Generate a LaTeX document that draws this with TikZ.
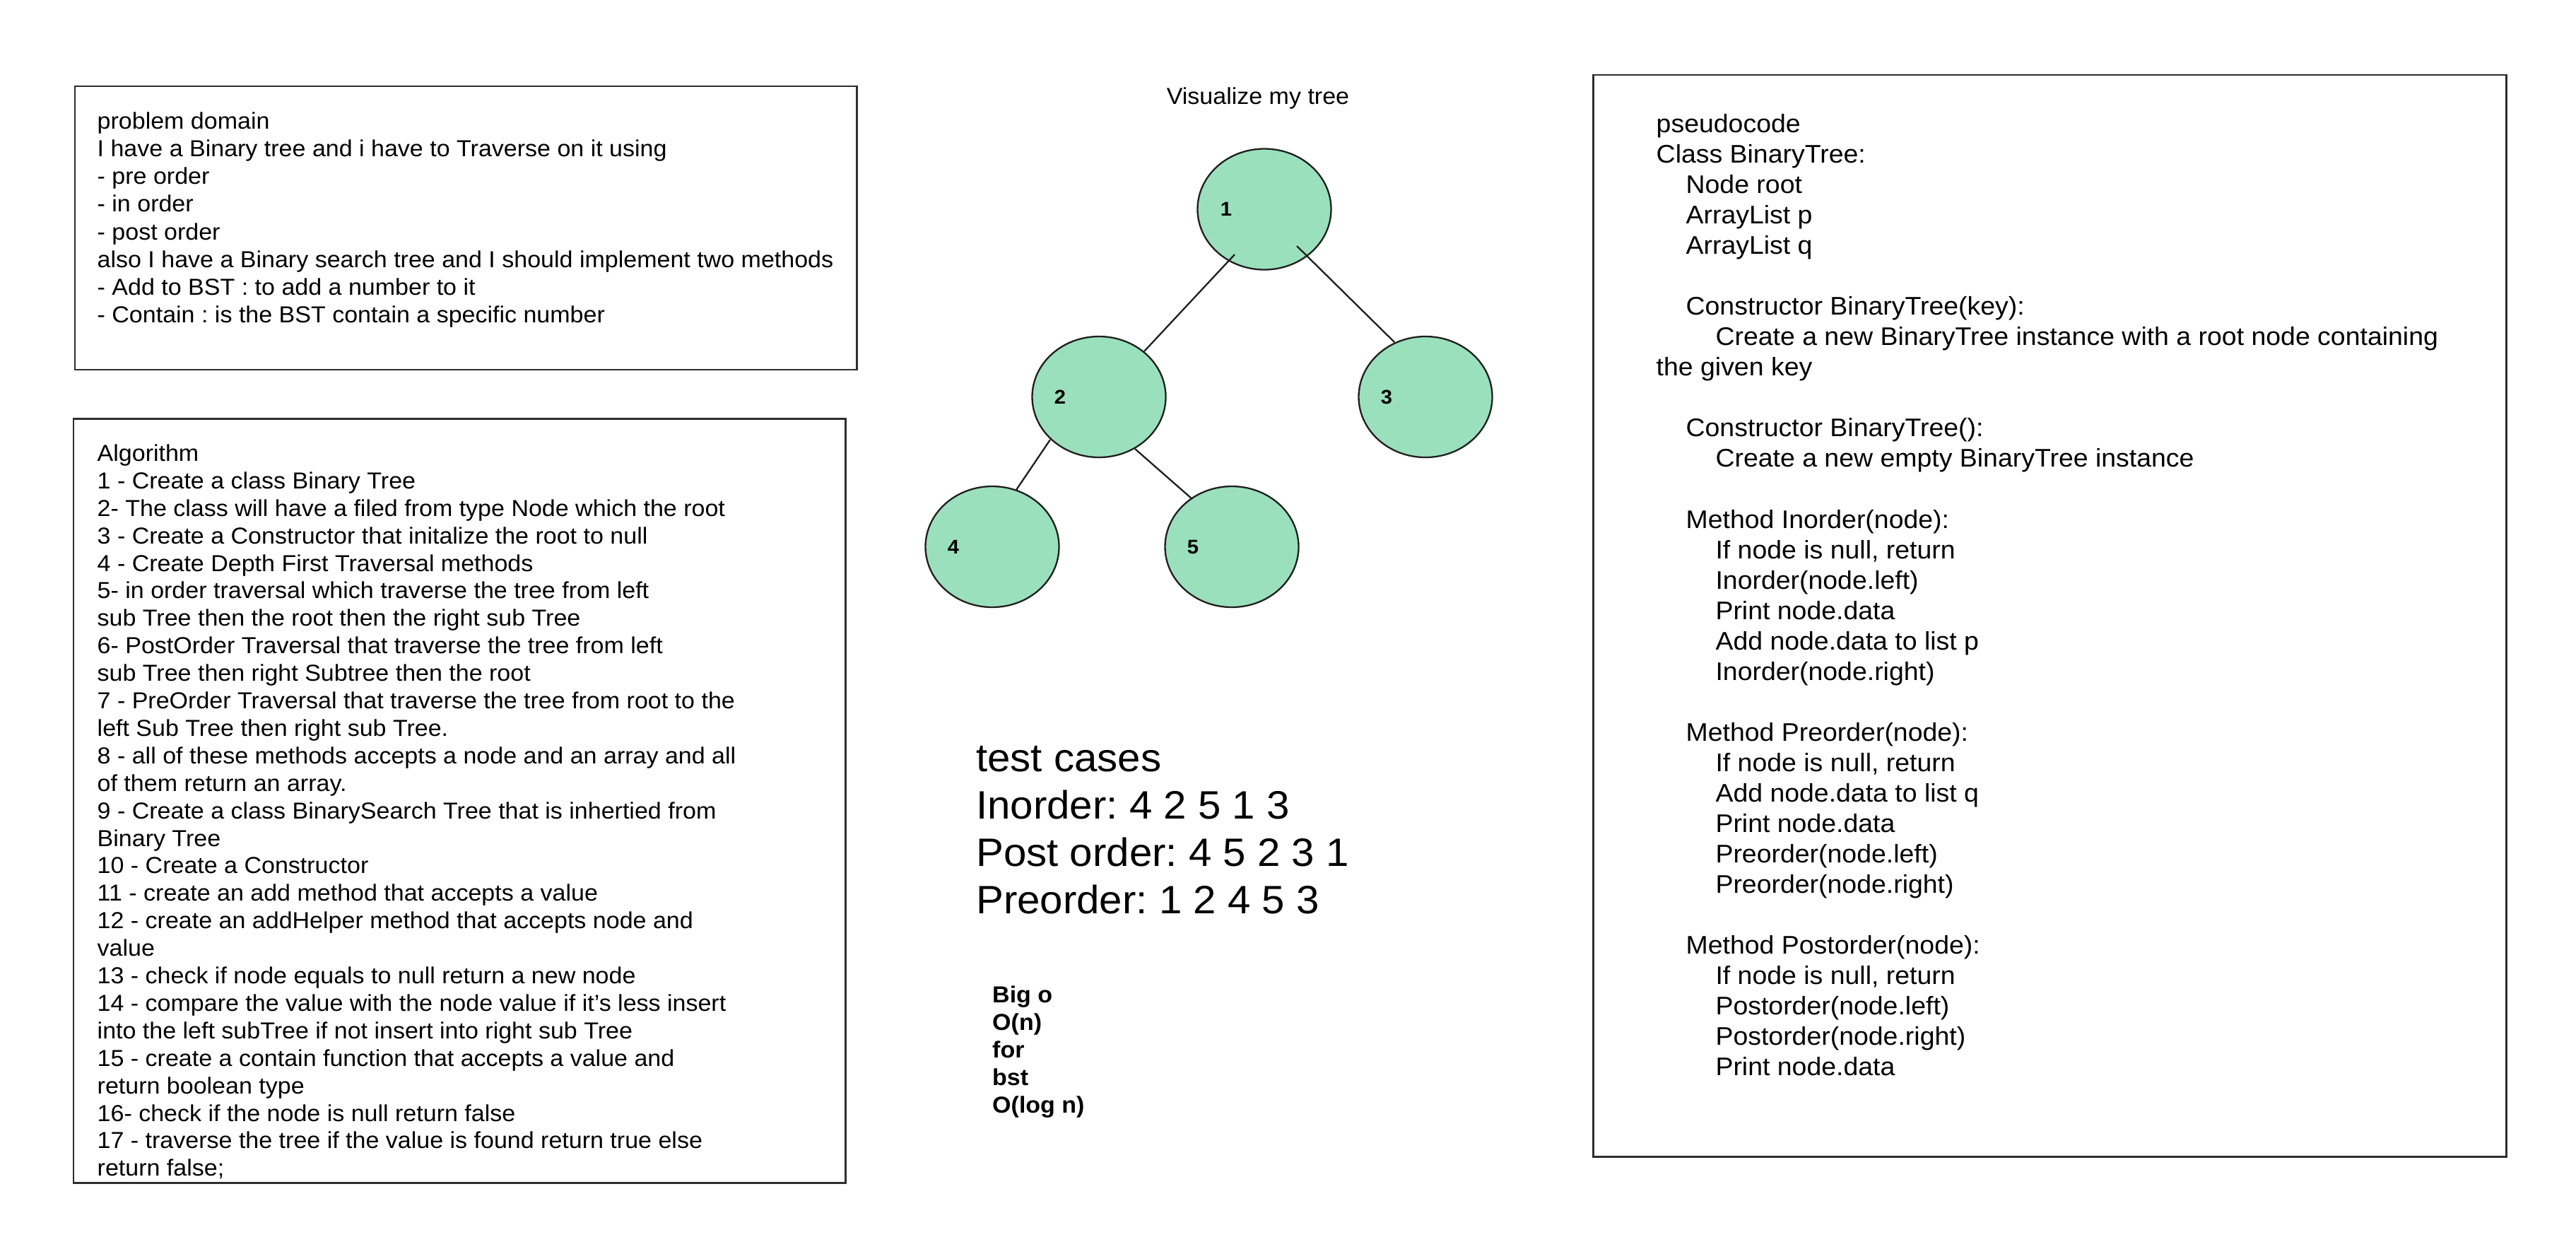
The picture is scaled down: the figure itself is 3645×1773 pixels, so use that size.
\documentclass[tikz,border=0pt]{standalone}
\usepackage{fontspec}
\setmainfont{Liberation Sans}[FakeStretch=1.04]
\usetikzlibrary{calc,shapes.geometric}
\definecolor{tgreen}{RGB}{155,224,188}
\newcommand{\fsA}{\fontsize{32.7pt}{39.05pt}\selectfont}
\newcommand{\fsB}{\fontsize{32.7pt}{38.9pt}\selectfont}
\newcommand{\fsP}{\fontsize{36pt}{43.05pt}\selectfont}
\newcommand{\fsT}{\fontsize{56pt}{67pt}\selectfont}
\newcommand{\fsN}{\fontsize{28pt}{33.6pt}\selectfont}
\newcommand{\ind}{\hspace*{41.9pt}}
\frenchspacing
\begin{document}
\begin{tikzpicture}[x=1pt,y=-1pt,
  box/.style={draw=black!82, line width=2.6pt, anchor=north west, inner sep=0pt},
  txt/.style={anchor=north west, inner sep=0pt, align=left},
  tnode/.style={ellipse, draw=black!88, line width=2.3pt, fill=tgreen,
    minimum width=189pt, minimum height=171pt, inner sep=0pt},
  lab/.style={font=\fsN\bfseries, inner sep=0pt},
  link/.style={draw=black!88, line width=2.3pt}]
\useasboundingbox[fill=white] (0,0) rectangle (3645,1773);

% boxes
\node[box, minimum width=1106.5pt, minimum height=401pt] (pdbox) at (104.5,120.5) {};
\node[box, minimum width=1092.5pt, minimum height=1081pt] (albox) at (102.5,591) {};
\node[box, minimum width=1292pt, minimum height=1530.5pt] (psbox) at (2253,104.5) {};

% problem domain text
\node[txt, font=\fsA] (pdtext) at (137.5,155.3) {\strut problem domain\\
I have a Binary tree and i have to Traverse on it using\\
- pre order\\
- in order\\
- post order\\
also I have a Binary search tree and I should implement two methods\\
- Add to BST : to add a number to it\\
- Contain : is the BST contain a specific number};

% algorithm text
\node[txt, font=\fsB] (altext) at (137.5,625) {\strut Algorithm\\
1 - Create a class Binary Tree\\
2- The class will have a filed from type Node which the root\\
3 - Create a Constructor that initalize the root to null\\
4 - Create Depth First Traversal methods\\
5- in order traversal which traverse the tree from left\\
sub Tree then the root then the right sub Tree\\
6- PostOrder Traversal that traverse the tree from left\\
sub Tree then right Subtree then the root\\
7 - PreOrder Traversal that traverse the tree from root to the\\
left Sub Tree then right sub Tree.\\
8 - all of these methods accepts a node and an array and all\\
of them return an array.\\
9 - Create a class BinarySearch Tree that is inhertied from\\
Binary Tree\\
10 - Create a Constructor\\
11 - create an add method that accepts a value\\
12 - create an addHelper method that accepts node and\\
value\\
13 - check if node equals to null return a new node\\
14 - compare the value with the node value if it's less insert\\
into the left subTree if not insert into right sub Tree\\
15 - create a contain function that accepts a value and\\
return boolean type\\
16- check if the node is null return false\\
17 - traverse the tree if the value is found return true else\\
return false;};

% pseudocode text
\node[txt, font=\fsP] (pstext) at (2343.5,157) {\strut pseudocode\\
Class BinaryTree:\\
\ind Node root\\
\ind ArrayList p\\
\ind ArrayList q\\
\strut\\
\ind Constructor BinaryTree(key):\\
\ind\ind Create a new BinaryTree instance with a root node containing\\
the given key\\
\strut\\
\ind Constructor BinaryTree():\\
\ind\ind Create a new empty BinaryTree instance\\
\strut\\
\ind Method Inorder(node):\\
\ind\ind If node is null, return\\
\ind\ind Inorder(node.left)\\
\ind\ind Print node.data\\
\ind\ind Add node.data to list p\\
\ind\ind Inorder(node.right)\\
\strut\\
\ind Method Preorder(node):\\
\ind\ind If node is null, return\\
\ind\ind Add node.data to list q\\
\ind\ind Print node.data\\
\ind\ind Preorder(node.left)\\
\ind\ind Preorder(node.right)\\
\strut\\
\ind Method Postorder(node):\\
\ind\ind If node is null, return\\
\ind\ind Postorder(node.left)\\
\ind\ind Postorder(node.right)\\
\ind\ind Print node.data};

% title
\node[anchor=base, inner sep=0pt, font=\fsA] (title) at (1780,147) {Visualize my tree};

% tree
\node[tnode, label={[lab, xshift=-54pt]center:1}] (n1) at (1789,296) {};
\node[tnode, label={[lab, xshift=-55pt]center:2}] (n2) at (1555,561.5) {};
\node[tnode, label={[lab, xshift=-55pt]center:3}] (n3) at (2017,561.5) {};
\node[tnode, label={[lab, xshift=-55pt]center:4}] (n4) at (1404,773.5) {};
\node[tnode, label={[lab, xshift=-55pt]center:5}] (n5) at (1743,773.5) {};

\draw[link] ($(n1)+(-42,64)$) -- ($(n2)+(64,-64.5)$);
\draw[link] ($(n1)+(46,52)$) -- ($(n3)+(-44,-77.5)$);
\draw[link] ($(n2)+(-69,60.5)$) -- ($(n4)+(34,-80.5)$);
\draw[link] ($(n2)+(51,73.5)$) -- ($(n5)+(-56,-67.5)$);

% test cases
\node[txt, font=\fsT] (tests) at (1381,1044.7) {\strut test cases\\
Inorder: 4 2 5 1 3\\
Post order: 4 5 2 3 1\\
Preorder: 1 2 4 5 3};

% big o
\node[txt, font=\fsA\bfseries, text depth=0pt] (bigo) at (1404,1391) {\fontsize{32.7pt}{38.9pt}\selectfont\strut Big o\\
O(n)\\
for\\
bst\\
O(log n)};
\end{tikzpicture}
\end{document}
